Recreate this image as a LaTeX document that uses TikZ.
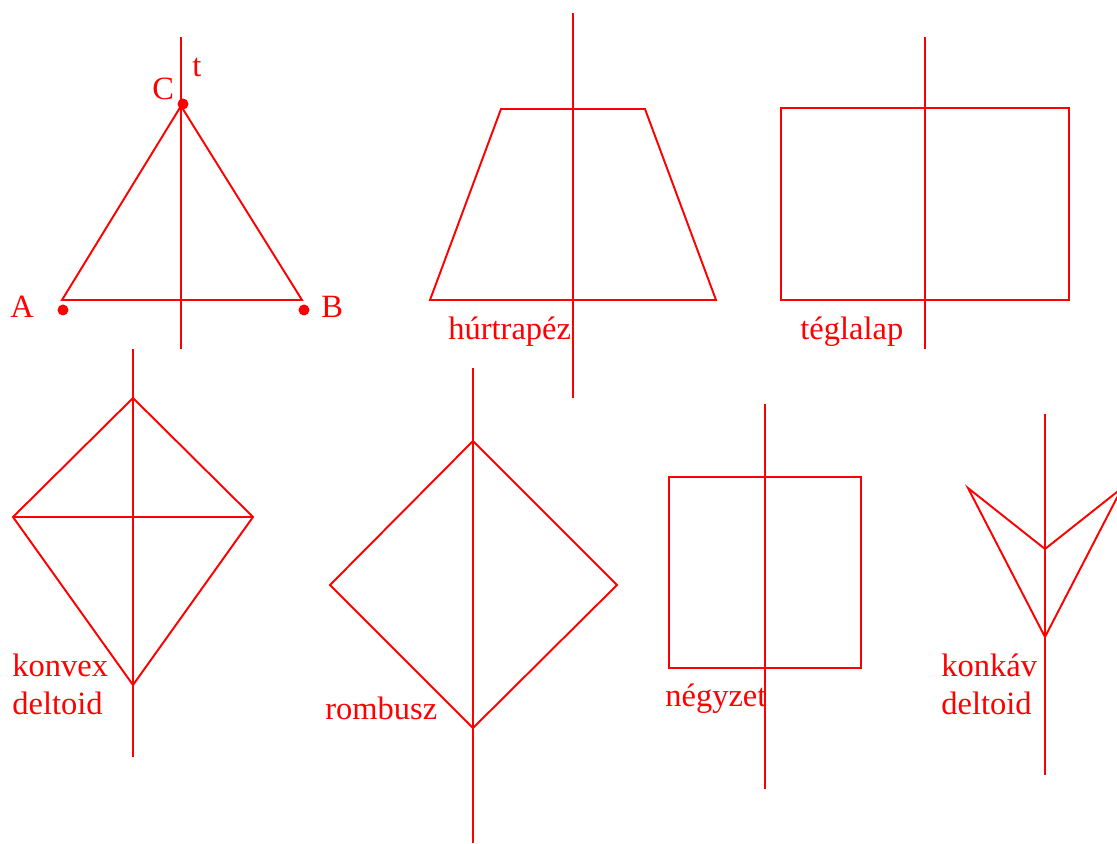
\documentclass[tikz,border=0pt]{standalone}
\usepackage{fontspec}
\setmainfont{Liberation Serif}
\usepackage{xcolor}
\definecolor{axisRed}{RGB}{255,0,0}

\begin{document}
\begin{tikzpicture}[x=0.02cm,y=-0.02cm,
  shape line/.style={draw=axisRed,line width=1.1pt,line join=miter},
  axis line/.style={draw=axisRed,line width=1.1pt},
  lbl/.style={anchor=base west,inner sep=0pt,text=axisRed,font=\fontsize{18.5}{22.5}\selectfont}]
\path[use as bounding box] (0,0) rectangle (1117,844);

% Egyenlő szárú háromszög
\coordinate (A) at (62,300);
\coordinate (B) at (302,300);
\coordinate (C) at (181,106);
\coordinate (tTop) at (181,37);
\coordinate (tBot) at (181,349);
\draw[shape line] (A) -- (B) -- (C) -- cycle;
\draw[axis line] (tTop) -- (tBot);
\fill[axisRed] (183,104) circle (5.5) (63,310) circle (5.5) (304,310) circle (5.5);
\node[lbl] (labA) at (10,318) {A};
\node[lbl] (labB) at (321,318) {B};
\node[lbl] (labC) at (152,100) {C};
\node[lbl] (labT) at (192,77) {t};

% Húrtrapéz
\coordinate (trTL) at (501,109);
\coordinate (trTR) at (645,109);
\coordinate (trBR) at (716,300);
\coordinate (trBL) at (430,300);
\draw[shape line] (trTL) -- (trTR) -- (trBR) -- (trBL) -- cycle;
\draw[axis line] (573,13) -- (573,398);
\node[lbl] (labTrap) at (448,340) {húrtrapéz};

% Téglalap
\coordinate (reTL) at (781,108);
\coordinate (reBR) at (1069,300);
\draw[shape line] (reTL) rectangle (reBR);
\draw[axis line] (925,37) -- (925,349);
\node[lbl] (labRect) at (800,340) {téglalap};

% Konvex deltoid
\coordinate (kTop) at (133,398);
\coordinate (kLeft) at (13,517);
\coordinate (kRight) at (253,517);
\coordinate (kBot) at (133,685);
\draw[shape line] (kTop) -- (kRight) -- (kBot) -- (kLeft) -- cycle;
\draw[shape line] (kLeft) -- (kRight);
\draw[axis line] (133,349) -- (133,757);
\node[lbl] (labKonvex) at (12,677) {konvex};
\node[lbl] (labKonvexB) at (12,715) {deltoid};

% Rombusz
\coordinate (rTop) at (473,441);
\coordinate (rLeft) at (330,585);
\coordinate (rRight) at (617,585);
\coordinate (rBot) at (473,728);
\draw[shape line] (rTop) -- (rRight) -- (rBot) -- (rLeft) -- cycle;
\draw[axis line] (473,368) -- (473,843);
\node[lbl] (labRomb) at (325,720) {rombusz};

% Négyzet
\coordinate (sqTL) at (669,477);
\coordinate (sqBR) at (861,668);
\draw[shape line] (sqTL) rectangle (sqBR);
\draw[axis line] (765,404) -- (765,789);
\node[lbl] (labSq) at (665,707) {négyzet};

% Konkáv deltoid
\coordinate (cLeft) at (968,488);
\coordinate (cIn) at (1045,549);
\coordinate (cRight) at (1122,488);
\coordinate (cBot) at (1045,637);
\draw[shape line] (cLeft) -- (cIn) -- (cRight) -- (cBot) -- cycle;
\draw[axis line] (1045,414) -- (1045,775);
\node[lbl] (labKonkav) at (941,677) {konkáv};
\node[lbl] (labKonkavB) at (941,715) {deltoid};
\end{tikzpicture}
\end{document}
